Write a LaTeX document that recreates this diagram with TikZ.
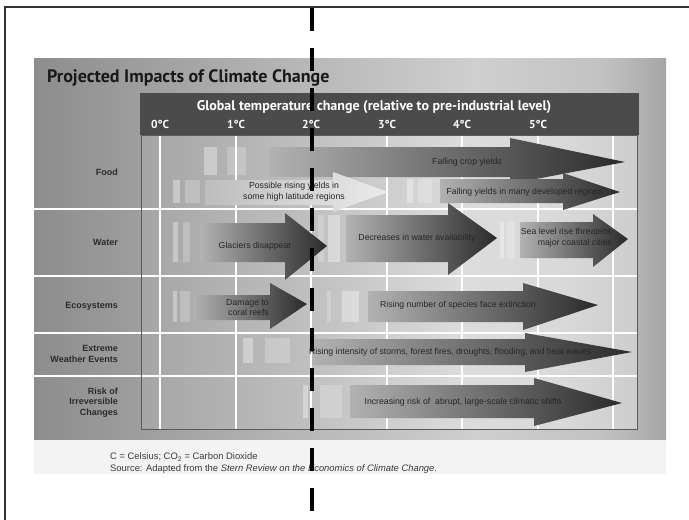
\documentclass[tikz,border=0pt]{standalone}
\usepackage{fontspec}
\setmainfont{Liberation Sans}
\newfontfamily\condfont{PT Sans}
\definecolor{hdr}{HTML}{4B4B4B}
\definecolor{txt}{HTML}{262626}
\definecolor{lbl}{HTML}{2B2B2B}
\definecolor{framec}{HTML}{5A5A5A}
\definecolor{footc}{HTML}{F3F3F3}
\definecolor{foottext}{HTML}{3A3A3A}
\definecolor{arrL}{HTML}{B2B2B2}
\definecolor{arrR}{HTML}{2A2A2A}
\definecolor{lightL}{HTML}{BDBDBD}
\definecolor{lightR}{HTML}{EBEBEB}
\definecolor{borderc}{HTML}{333333}
\definecolor{pa}{HTML}{8D8D8D}
\definecolor{pb}{HTML}{B5B5B5}
\definecolor{pc}{HTML}{CFCFCF}
\definecolor{pd}{HTML}{C2C2C2}
\definecolor{pe}{HTML}{A6A6A6}
\definecolor{qa}{HTML}{A5A5A5}
\definecolor{qb}{HTML}{BCBCBC}
\definecolor{qc}{HTML}{DCDCDC}
\definecolor{qd}{HTML}{D9D9D9}
\definecolor{qe}{HTML}{CDCDCD}
\pgfdeclarehorizontalshading{panelsh}{100bp}{color(0bp)=(pa); color(25bp)=(pa); color(45bp)=(pb); color(60bp)=(pc); color(70bp)=(pd); color(75bp)=(pe); color(100bp)=(pe)}
\pgfdeclarehorizontalshading{plotsh}{100bp}{color(0bp)=(qa); color(25bp)=(qa); color(40bp)=(qb); color(57.5bp)=(qc); color(67.5bp)=(qd); color(75bp)=(qe); color(100bp)=(qe)}
\newcommand{\garrow}[9]{\shade[#1] (#2,#3) -- (#5,#3) -- (#5,#6) -- (#8,#9) -- (#5,#7) -- (#5,#4) -- (#2,#4) -- cycle;}
\tikzset{
  darkarrow/.style={left color=arrL, right color=arrR, draw=none},
  lightarrow/.style={left color=lightL, right color=lightR, draw=none},
  ghost/.style={fill=white, fill opacity=0.35, draw=none},
  ghostb/.style={fill=white, fill opacity=0.22, draw=none},
  gridline/.style={white, line width=2pt},
  atext/.style={text=txt, font=\fontsize{8.7}{10.6}\selectfont, inner sep=0pt},
  rowlbl/.style={anchor=east, text=lbl, font=\bfseries\fontsize{9}{10.6}\selectfont, align=right, inner sep=0pt},
  deg/.style={text=white, font=\condfont\bfseries\fontsize{11.5}{12}\selectfont, inner sep=0pt},
  foottxt/.style={anchor=base west, text=foottext, font=\fontsize{9.4}{11}\selectfont, inner sep=0pt},
  cutline/.style={line width=4pt, dash pattern=on 23pt off 17pt, black},
  borderline/.style={line width=1.1pt, borderc}
}
\begin{document}
\begin{tikzpicture}[x=1pt,y=-1pt]
\useasboundingbox (0,0) rectangle (689,520);
\fill[white] (0,0) rectangle (689,520);
% panel and footer
\shade[shading=panelsh] (34,58) rectangle (666,440);
\fill[footc] (34,440) rectangle (666,474);
% plot area
\shade[shading=plotsh] (141,135) rectangle (637,429);
% grid
\foreach \gx in {160,236,311,387,462,538,613} \draw[gridline] (\gx,135) -- (\gx,429);
\foreach \gy in {209,276,333,376} \draw[gridline] (34,\gy) -- (637,\gy);
\draw[framec, line width=0.8pt] (141,135) rectangle (637,429);
% header bar
\fill[hdr] (140,93) rectangle (639,135);
\node[anchor=base west, inner sep=0pt, text=black!90, font=\condfont\bfseries\fontsize{18}{18}\selectfont] (title) at (47,82) {Projected Impacts of Climate Change};
\node[text=white, inner sep=0pt, font=\condfont\bfseries\fontsize{14}{14}\selectfont] (htitle) at (374,107) {Global temperature change (relative to pre-industrial level)};
\node[deg] (d0) at (160,124) {0°C};
\node[deg] (d1) at (236,124) {1°C};
\node[deg] (d2) at (311,124) {2°C};
\node[deg] (d3) at (387,124) {3°C};
\node[deg] (d4) at (462,124) {4°C};
\node[deg] (d5) at (538,124) {5°C};
% ghost bars
\fill[ghost] (204,147) rectangle (217,175);
\fill[ghostb] (227,147) rectangle (246,175);
\fill[ghost] (173,180) rectangle (180,203);
\fill[ghostb] (185,180) rectangle (200,203);
\fill[ghost] (407,179) rectangle (413,203);
\fill[ghostb] (418,179) rectangle (432,203);
\fill[ghost] (173,222) rectangle (178,262);
\fill[ghostb] (183,222) rectangle (190,262);
\fill[ghostb] (318,215) rectangle (324,262);
\fill[ghost] (328,215) rectangle (340,262);
\fill[ghost] (500,222) rectangle (504,258);
\fill[ghostb] (507,222) rectangle (515,258);
\fill[ghost] (173,291) rectangle (177,322);
\fill[ghostb] (180,291) rectangle (190,322);
\fill[ghostb] (327,291) rectangle (331,322);
\fill[ghost] (342,291) rectangle (359,322);
\fill[ghost] (243,338) rectangle (253,363);
\fill[ghostb] (265,338) rectangle (290,363);
\fill[ghost] (303,385) rectangle (308,418);
\fill[ghostb] (320,385) rectangle (342,418);
\fill[ghostb] (352,385) rectangle (360,418);
% arrows
\garrow{darkarrow}{269}{147}{177}{510}{138}{184}{625}{162}
\garrow{lightarrow}{205}{180}{205}{333}{172}{212}{388}{192}
\garrow{darkarrow}{440}{179}{203}{563}{173}{210}{620}{192}
\garrow{darkarrow}{200}{223}{262}{285}{213}{280}{327}{246}
\garrow{darkarrow}{346}{215}{262}{448}{203}{275}{497}{238}
\garrow{darkarrow}{520}{222}{258}{593}{214}{267}{628}{239}
\garrow{darkarrow}{193}{295}{320}{270}{283}{329}{307}{304}
\garrow{darkarrow}{368}{291}{322}{523}{283}{330}{598}{305}
\garrow{darkarrow}{312}{339}{365}{525}{333}{372}{632}{352}
\garrow{darkarrow}{350}{385}{418}{534}{378}{426}{622}{403}
% arrow texts
\node[atext] (t1) at (467,162) {Falling crop yields};
\node[atext, align=center] (t2) at (294,191.5) {Possible rising yields in\\some high latitude regions};
\node[atext] (t3) at (525,192) {Falling yields in many developed regions};
\node[atext] (t4) at (255,246) {Glaciers disappear};
\node[atext] (t5) at (417,238) {Decreases in water availability};
\node[atext, align=right, anchor=east] (t6) at (612,237.5) {Sea level rise threatens\\major coastal cities};
\node[atext, align=right, anchor=east] (t7) at (269,307.5) {Damage to\\coral reefs};
\node[atext] (t8) at (458,305) {Rising number of species face extinction};
\node[atext] (t9) at (450,352) {Rising intensity of storms, forest fires, droughts, flooding, and heat waves};
\node[atext] (t10) at (463,402) {Increasing risk of \ abrupt, large-scale climatic shifts};
% row labels
\node[rowlbl] (lfood) at (118,172) {Food};
\node[rowlbl] (lwater) at (118,242) {Water};
\node[rowlbl] (leco) at (118,306) {Ecosystems};
\node[rowlbl] (lext) at (118,354) {Extreme\\Weather Events};
\node[rowlbl] (lrisk) at (118,402.5) {Risk of\\Irreversible\\Changes};
% footer
\node[foottxt] (f1) at (110,459.5) {C = Celsius; CO\textsubscript{2} = Carbon Dioxide};
\node[foottxt] (f2) at (110,471.5) {Source: Adapted from the \textit{Stern Review on the Economics of Climate Change}.};
% cut line and border
\coordinate (cutA) at (311.5,8);
\coordinate (cutB) at (311.5,520);
\draw[cutline] (cutA) -- (cutB);
\coordinate (bTR) at (689,7);
\coordinate (bTL) at (5,7);
\coordinate (bBL) at (5,520);
\draw[borderline] (bTR) -- (bTL) -- (bBL);
\end{tikzpicture}
\end{document}
